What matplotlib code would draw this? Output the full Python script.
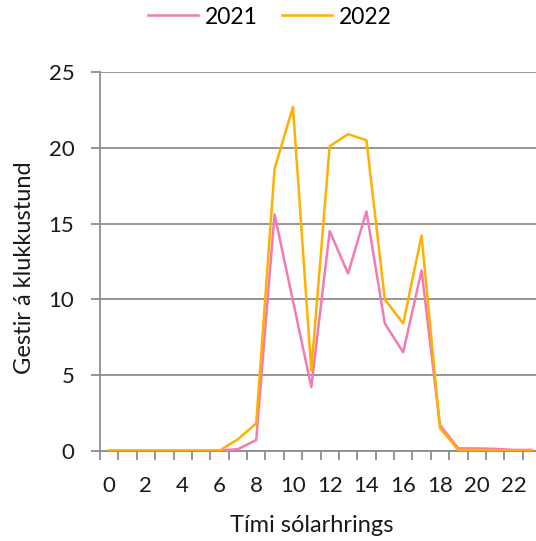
import matplotlib
matplotlib.use("Agg")
import matplotlib.pyplot as plt
from matplotlib.ticker import FixedLocator

hours = list(range(24))
y2021 = [0, 0, 0, 0, 0, 0, 0, 0.1, 0.7, 15.6, 9.9, 4.2, 14.5, 11.7, 15.8, 8.4, 6.5, 11.9, 1.7, 0.15, 0.15, 0.12, 0.05, 0.05]
y2022 = [0, 0, 0, 0, 0, 0, 0, 0.75, 1.8, 18.6, 22.7, 5.3, 20.1, 20.9, 20.5, 10.0, 8.4, 14.2, 1.5, 0.05, 0.05, 0.03, 0, 0]
series_names = ["2021", "2022"]
xtick_labels = [str(h) for h in range(0, 24, 2)]
ylabel = "Gestir á klukkustund"
xlabel = "Tími sólarhrings"

plt.rcParams['font.family'] = ['Lato', 'DejaVu Sans']
fig = plt.figure(figsize=(5.36, 5.41), dpi=100)
ax = fig.add_axes([100/536, 90.3/541, 441/536, 378.6/541])

grey = '#8c8c8c'
txt = '#1a1a1a'
ax.plot(hours, y2021, color='#F47AB3', lw=1.8, label=series_names[0], zorder=3)
ax.plot(hours, y2022, color='#FFB000', lw=1.8, label=series_names[1], zorder=4)

ax.set_xlim(-0.5, 23.5)
ax.set_ylim(0, 25)
ax.set_yticks([0, 5, 10, 15, 20, 25])
ax.set_xticks(list(range(0, 24, 2)))
ax.set_xticklabels(xtick_labels)
ax.xaxis.set_minor_locator(FixedLocator([i - 0.5 for i in range(25)]))
ax.tick_params(axis='x', which='major', length=0, labelsize=16, pad=18, colors=txt)
ax.tick_params(axis='x', which='minor', length=6.5, width=1.3, color=grey)
ax.tick_params(axis='y', which='major', length=6.5, width=1.3, color=grey, labelsize=16, pad=12, labelcolor=txt)
ax.grid(axis='y', color=grey, lw=1.3)
for s in ['top', 'right']:
    ax.spines[s].set_visible(False)
for s in ['left', 'bottom']:
    ax.spines[s].set_color(grey)
    ax.spines[s].set_linewidth(1.3)
ax.set_axisbelow(True)

fig.text(25/536, 1 - 268/541, ylabel, rotation=90, ha='center', va='center', fontsize=17, color=txt)
fig.text(312/536, 1 - 526/541, xlabel, ha='center', va='center', fontsize=17, color=txt)

leg = fig.legend(loc='center', bbox_to_anchor=(270/536, 1 - 17/541), ncol=2, frameon=False,
                 fontsize=16.5, handlelength=2.2, handletextpad=0.3, columnspacing=1.05)

fig.savefig("out.png", dpi=100)
